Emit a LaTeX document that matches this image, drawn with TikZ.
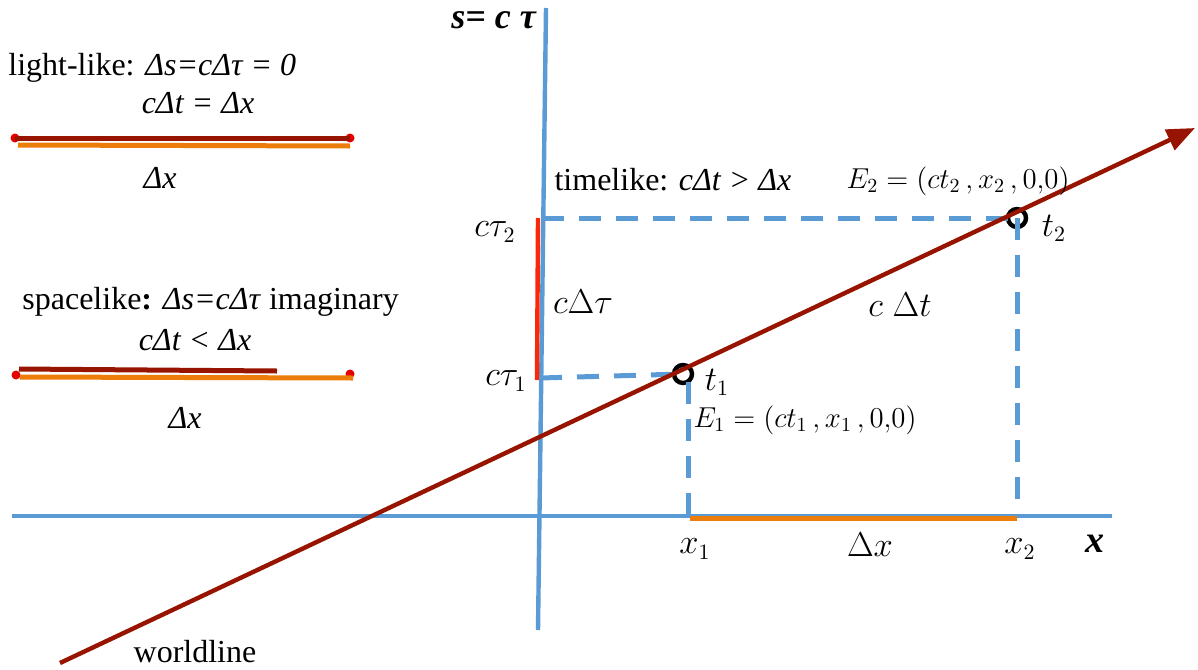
\documentclass[tikz,border=0pt]{standalone}
\usepackage{fontspec}
\setmainfont{Liberation Serif}
\usetikzlibrary{arrows.meta}
\definecolor{axisblue}{RGB}{91,155,213}
\definecolor{wlred}{RGB}{150,20,0}
\definecolor{dxorange}{RGB}{237,125,10}
\definecolor{taured}{RGB}{250,40,10}
\newcommand{\bigtxt}{\fontsize{16}{19}\selectfont}
\newcommand{\mathtxt}{\fontsize{16}{19}\selectfont}
\newcommand{\evttxt}{\fontsize{14}{17}\selectfont}

\begin{document}
\begin{tikzpicture}[x=0.5pt,y=-0.5pt,
        axis/.style={axisblue,line width=2.2pt},
        world/.style={wlred,line width=2.2pt},
        proj/.style={axisblue,line width=2.5pt,dash pattern=on 11pt off 7.5pt},
        dxbar/.style={dxorange,line width=2.5pt},
        ctbar/.style={wlred,line width=2.5pt},
        dot/.style={circle,fill=red!90!black,inner sep=0pt,minimum size=4.5pt},
        event/.style={circle,draw=black,line width=2.2pt,inner sep=0pt,minimum size=9pt},
        lbl/.style={font=\bigtxt,inner sep=1pt}]
        \useasboundingbox (0,0) rectangle (1198,669);

        % light-like
        \node[lbl,anchor=west] (lltitle) at (6,68) {light-like: \textit{Δs=cΔτ = 0}};
        \node[lbl] (llrel) at (198,103) {\textit{cΔt = Δx}};
        \node[dot] (lla) at (15,138) {};
        \node[dot] (llb) at (350,138) {};
        \draw[dxbar] (18,145) coordinate (llo1) -- (350,146) coordinate (llo2);
        \draw[ctbar] (lla.center) -- (llb.center);
        \node[lbl] (lldx) at (160,178) {\textit{Δx}};

        % spacelike
        \node[lbl,anchor=west] (sltitle) at (20,302) {spacelike\textbf{:} \textit{Δs=cΔτ} imaginary};
        \node[lbl] (slrel) at (195,340) {\textit{cΔt < Δx}};
        \node[dot] (sla) at (16,375) {};
        \node[dot] (slb) at (350,374) {};
        \draw[ctbar] (19,369) coordinate (slr1) -- (277,371) coordinate (slr2);
        \draw[dxbar] (sla.center) ++(4,2) -- (353,378) coordinate (slo2);
        \node[lbl] (sldx) at (185,418) {\textit{Δx}};

        % Achsen
        \coordinate (ytop) at (546,8);
        \coordinate (ybot) at (538,630);
        \coordinate (xl) at (12,516);
        \coordinate (xr) at (1112,516);
        \draw[axis] (ybot) -- (ytop);
        \draw[axis] (xl) -- (xr);
        \node[font=\fontsize{18}{20}\selectfont] (slab) at (494,20) {\textbf{\textit{s= c τ}}};
        \node[font=\fontsize{19}{20}\selectfont] (xlab) at (1095,544) {\textbf{\textit{x}}};

        % Ereignisse und Projektionen
        \coordinate (tau2) at (542,218);
        \coordinate (tau1) at (540,378);
        \coordinate (x1) at (688,516);
        \coordinate (x2) at (1017,516);
        \node[event] (E2) at (1017,218) {};
        \node[event] (E1) at (683,374) {};
        \draw[proj] (tau2) -- (E2.center);
        \draw[proj] (E2.center) -- (x2);
        \draw[proj] (tau1) -- (E1.center);
        \draw[proj] (688,382) coordinate (e1low) -- (x1);
        \draw[taured,line width=2.2pt] (538,218) coordinate (r2) -- (537,380) coordinate (r1);
        \draw[dxbar] (690,518) coordinate (o1) -- (1017,518) coordinate (o2);

        % Weltlinie
        \coordinate (wstart) at (60,663);
        \coordinate (wend) at (1195,128);
        \draw[world,-{Triangle[length=14pt,width=11pt]}] (wstart) -- (wend);

        % Beschriftungen
        \node[lbl] (timelike) at (673,180) {timelike: \textit{cΔt > Δx}};
        \node[font=\evttxt] (E2lab) at (958,181) {$E_2=(ct_2\,,x_2\,,0{,}0)$};
        \node[font=\evttxt] (E1lab) at (805,420) {$E_1=(ct_1\,,x_1\,,0{,}0)$};
        \node[font=\mathtxt] (ct2) at (495,232) {$c\tau_2$};
        \node[font=\mathtxt] (ct1) at (506,381) {$c\tau_1$};
        \node[font=\mathtxt] (t2) at (1054,228) {$t_2$};
        \node[font=\mathtxt] (t1) at (717,382) {$t_1$};
        \node[font=\mathtxt] (dtau) at (583,302) {$c\Delta\tau$};
        \node[font=\mathtxt] (cdt) at (900,305) {$c\;\Delta t$};
        \node[font=\mathtxt] (x1lab) at (695,549) {$x_1$};
        \node[font=\mathtxt] (x2lab) at (1020,549) {$x_2$};
        \node[font=\mathtxt] (dx) at (870,545) {$\Delta x$};
        \node[lbl,inner sep=0pt] (wl) at (195,652) {worldline};
    \end{tikzpicture}
\end{document}
